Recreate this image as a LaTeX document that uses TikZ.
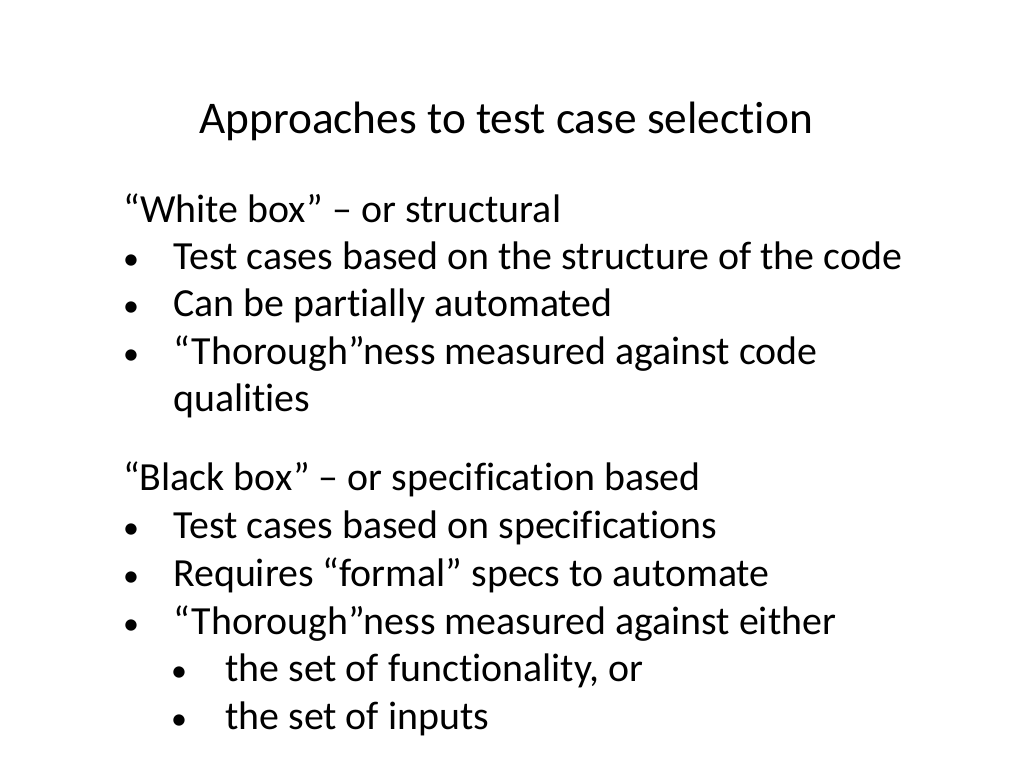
\documentclass[tikz,border=0pt]{standalone}
\usepackage{fontspec}
\setmainfont[Ligatures={TeX,NoCommon}]{Carlito}
\tikzset{
  body/.style={anchor=base west, inner sep=0pt, font=\fontsize{29.9pt}{34pt}\selectfont},
  dot/.style={anchor=base, inner sep=0pt, font=\fontsize{24pt}{28pt}\selectfont}
}
\begin{document}
\begin{tikzpicture}[x=0.75pt,y=0.75pt,yscale=-1]
\useasboundingbox (0,0) rectangle (1024,768);

% Title
\node (title) [anchor=base, inner sep=0pt, font=\fontsize{34pt}{40pt}\selectfont] at (506,133) {Approaches to test case selection};

% White box
\node (white) [body] at (123,222) {``White box'' -- or structural};
\foreach \y/\t [count=\i] in {269/Test cases based on the structure of the code,
  316/Can be partially automated,
  364/{``Thorough''ness measured against code}} {
  \node (wdot\i) [dot] at (131,\y) {\textbullet};
  \node (wtxt\i) [body] at (173,\y) {\t};
}
\node (wtxt4) [body] at (173,411) {qualities};

% Black box
\node (black) [body] at (123,490) {``Black box'' -- or specification based};
\foreach \y/\t [count=\i] in {538/Test cases based on specifications,
  586/Requires ``formal'' specs to automate,
  634/{``Thorough''ness measured against either}} {
  \node (bdot\i) [dot] at (131,\y) {\textbullet};
  \node (btxt\i) [body] at (173,\y) {\t};
}
\foreach \y/\t [count=\i] in {681/{the set of functionality, or},
  729/the set of inputs} {
  \node (sdot\i) [dot] at (179,\y) {\textbullet};
  \node (stxt\i) [body] at (225,\y) {\t};
}
\end{tikzpicture}
\end{document}
